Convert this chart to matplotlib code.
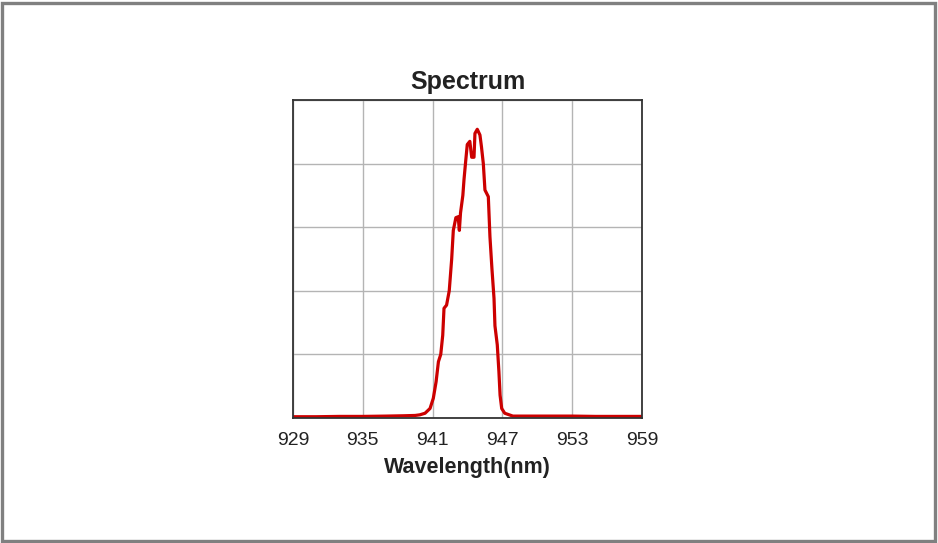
import matplotlib
matplotlib.use("Agg")
import matplotlib.pyplot as plt
from matplotlib.patches import Rectangle

wavelength = [929.0, 931.0, 933.0, 935.0, 937.0, 938.5, 939.5, 939.9, 940.35, 940.78,
              941.06, 941.3, 941.5, 941.7, 941.87, 941.98, 942.2, 942.43, 942.64, 942.78,
              943.0, 943.2, 943.3, 943.4, 943.6, 943.7, 943.85, 943.98, 944.2, 944.36,
              944.56, 944.64, 944.84, 945.07, 945.2, 945.36, 945.5, 945.79, 945.93, 946.1,
              946.28, 946.36, 946.56, 946.7, 946.8, 946.94, 947.2, 947.9, 949.0, 951.0,
              953.0, 955.0, 957.0, 959.0]
intensity = [0.004, 0.004, 0.005, 0.005, 0.006, 0.007, 0.008, 0.010, 0.015, 0.030,
             0.062, 0.114, 0.177, 0.20, 0.26, 0.345, 0.355, 0.40, 0.50, 0.59,
             0.63, 0.633, 0.59, 0.645, 0.70, 0.75, 0.81, 0.86, 0.87, 0.82,
             0.82, 0.895, 0.908, 0.89, 0.853, 0.80, 0.717, 0.696, 0.57, 0.47,
             0.376, 0.29, 0.23, 0.146, 0.072, 0.030, 0.015, 0.006, 0.006, 0.006,
             0.006, 0.005, 0.005, 0.005]
xticks = [929, 935, 941, 947, 953, 959]
yticks = [0, 0.2, 0.4, 0.6, 0.8, 1.0]

plt.rcParams['font.family'] = ['Liberation Sans', 'DejaVu Sans']
fig = plt.figure(figsize=(9.38, 5.43), dpi=100)
fig.patches.append(Rectangle((0.002, 0.004), 0.995, 0.99, transform=fig.transFigure,
                             fill=False, edgecolor='#808080', linewidth=2.4))
ax = fig.add_axes([0.3124, 0.2302, 0.3720, 0.5856])
ax.plot(wavelength, intensity, color='#cc0000', linewidth=2.3)
ax.set_xlim(929, 959)
ax.set_ylim(0, 1.0)
ax.set_xticks(xticks)
ax.set_xticklabels([str(t) for t in xticks])
ax.set_yticks(yticks)
ax.set_yticklabels([])
ax.tick_params(axis='both', length=0, labelsize=14, colors='#222222', pad=10)
ax.grid(True, color='#b4b4b4', linewidth=1.0)
ax.set_axisbelow(True)
for s in ax.spines.values():
    s.set_color('#333333')
    s.set_linewidth(1.3)
ax.set_title('Spectrum', fontsize=18, fontweight='bold', color='#222222', pad=8)
ax.set_xlabel('Wavelength(nm)', fontsize=15.5, fontweight='bold', color='#222222', labelpad=6)
fig.savefig('out.png', dpi=100)
